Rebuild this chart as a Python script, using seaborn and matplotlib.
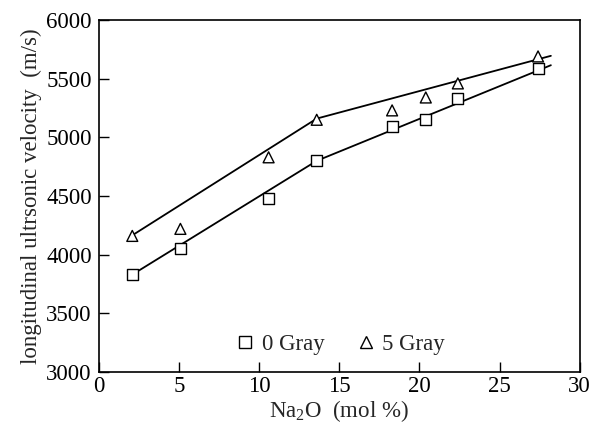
import matplotlib
matplotlib.use("Agg")
import matplotlib.pyplot as plt
import seaborn as sns
import pandas as pd

# measured points
na2o = [2.1, 5.1, 10.6, 13.6, 18.3, 20.4, 22.4, 27.4]
v_0gray = [3830, 4050, 4480, 4800, 5090, 5150, 5330, 5590]
v_5gray = [4160, 4220, 4830, 5150, 5230, 5340, 5460, 5690]

# fitted piecewise lines (knots)
fit_x = [2.1, 13.6, 28.2]
fit_0gray = [3830, 4800, 5615]
fit_5gray = [4165, 5160, 5695]

sns.set_theme(style="ticks")
plt.rcParams['font.family'] = ['Liberation Serif', 'DejaVu Serif']
plt.rcParams['mathtext.fontset'] = 'custom'
plt.rcParams['mathtext.rm'] = 'Liberation Serif'
plt.rcParams['mathtext.it'] = 'Liberation Serif:italic'

fig = plt.figure(figsize=(5.94, 4.23), dpi=100)
ax = fig.add_axes([0.166, 0.1206, 0.810, 0.832])

pts = pd.DataFrame({"x": na2o * 2,
                    "v": v_0gray + v_5gray,
                    "s": ["0 Gray"] * len(na2o) + ["5 Gray"] * len(na2o)})
fits = pd.DataFrame({"x": fit_x * 2,
                     "v": fit_0gray + fit_5gray,
                     "s": ["0 Gray"] * 3 + ["5 Gray"] * 3})

sns.lineplot(data=fits, x="x", y="v", units="s", estimator=None, color="black",
             lw=1.3, ax=ax, legend=False, sort=False)
sns.scatterplot(data=pts, x="x", y="v", style="s", markers={"0 Gray": "s", "5 Gray": "^"},
                facecolor="white", edgecolor="black", linewidth=1.0, s=62, ax=ax, zorder=3)

ax.set_xlim(0, 30)
ax.set_ylim(3000, 6000)
ax.set_xticks([0, 5, 10, 15, 20, 25, 30])
ax.set_yticks([3000, 3500, 4000, 4500, 5000, 5500, 6000])
ax.tick_params(direction="in", length=7, width=1.0, labelsize=16.5, colors="black", pad=3)
ax.tick_params(axis="y", pad=5)
for sp in ax.spines.values():
    sp.set_visible(True)
    sp.set_linewidth(1.2)
    sp.set_color("black")

ax.set_xlabel("Na$_2$O  (mol %)", fontsize=16.5, labelpad=1)
ax.set_ylabel("longitudinal ultrsonic velocity  (m/s)", fontsize=16.5, labelpad=3)

leg = ax.legend(loc="lower center", bbox_to_anchor=(0.50, -0.01), ncol=2, frameon=False,
                fontsize=16.5, handletextpad=0.2, columnspacing=1.3, handlelength=1.0,
                markerscale=1.15)
for h in leg.legend_handles:
    try:
        h.set_markerfacecolor("white")
        h.set_markeredgecolor("black")
    except AttributeError:
        h.set_facecolor("white")
        h.set_edgecolor("black")

fig.savefig("out.png", dpi=100)
